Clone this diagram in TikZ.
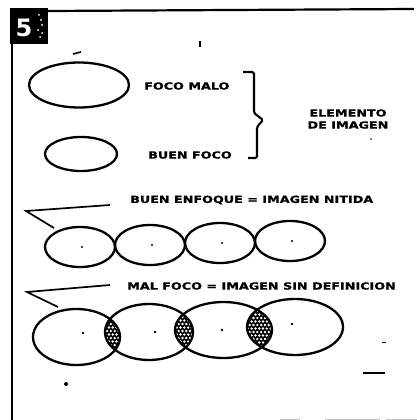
\documentclass[tikz,border=0pt]{standalone}
\usepackage{fontspec}
\setmainfont{DejaVu Sans}
\newfontfamily\lblfont[FakeStretch=1.3,FakeBold=1.2]{DejaVu Sans Bold}
\usetikzlibrary{shapes.geometric,calc}
\tikzset{
  lbl/.style={font=\lblfont\fontsize{9.8}{12}\selectfont, inner sep=0pt, anchor=west, align=left},
  ell/.style={draw, ellipse, line width=2.3pt, inner sep=0pt, outer sep=0pt},
  cdot/.style={fill, circle, inner sep=0pt, minimum size=2.6pt},
  pointer/.style={line width=1.7pt, line join=miter},
  stip/.style={fill=black},
}
\begin{document}
\begin{tikzpicture}[x=1pt,y=-1pt]
\useasboundingbox (0,0) rectangle (417,420);
% frame
\fill (10,8) rectangle (48,44);
\node[text=white, font=\bfseries\fontsize{24}{24}\selectfont, inner sep=0pt] (five) at (24,28) {5};
\foreach \p in {(39,15),(41,20),(42,25),(38,30),(42,33),(40,37)}{\fill[white] \p circle (1pt);}
\draw[line width=2.2pt] (48,11) -- (414,9);
\draw[line width=2.4pt] (12,44) -- (12,420);
% stray marks
\draw[line width=1.6pt] (73,54) -- (81,52);
\draw[line width=1.4pt] (200,41) -- (200,47);
\fill (371,139) circle (0.8pt);
\draw[line width=1pt] (382,342) -- (386,342);
\draw[line width=2.2pt] (363,373) -- (385,373);
\fill (66,384) circle (2pt);
\draw[gray!45, line width=0.8pt] (280,419) -- (300,419) (325,419) -- (380,419) (386,419) -- (417,419);
% element ellipses
\node[ell, minimum width=100pt, minimum height=45pt] (malo) at (79,85) {};
\node[lbl] (tmalo) at (144,86) {FOCO MALO};
\node[ell, minimum width=72pt, minimum height=34pt] (bueno) at (81,154) {};
\node[lbl] (tbueno) at (148,155) {BUEN FOCO};
\draw[line width=2.1pt, rounded corners=1.5pt] (243,72) -- (254,72) -- (254,113) -- (263,120) -- (257,127) -- (257,158) -- (248,158);
\node[lbl, align=center, anchor=center] (elem) at (348,119) {ELEMENTO\\DE IMAGEN};
% row 1
\node[lbl] (t1) at (130,200) {BUEN ENFOQUE = IMAGEN NITIDA};
\coordinate (p1a) at (110,205);
\coordinate (p1b) at (26,211);
\coordinate (p1c) at (54,228);
\draw[pointer] (p1a) -- (p1b) -- (p1c);
\foreach \n/\x/\y in {1/80/247,2/150/245,3/220/243,4/290/241}{
  \node[ell, minimum width=70pt, minimum height=40pt] (a\n) at (\x,\y) {};
  \node[cdot, minimum size=2.4pt] (ad\n) at (\x+2,\y) {};
}
% row 2
\node[lbl] (t2) at (127,286) {MAL FOCO = IMAGEN SIN DEFINICION};
\coordinate (p2a) at (110,285);
\coordinate (p2b) at (27,292);
\coordinate (p2c) at (58,307);
\draw[pointer] (p2a) -- (p2b) -- (p2c);
\coordinate (c1) at (76.5,337);
\coordinate (c2) at (149,332);
\coordinate (c3) at (223.5,330);
\coordinate (c4) at (295,327);
\foreach \a/\ra/\b/\rb in {c1/43.5/c2/44,c2/44/c3/48.5,c3/48.5/c4/48}{
  \begin{scope}
    \coordinate (mid) at ($(\a)!0.5!(\b)$);
    \clip (\a) ellipse [x radius=\ra, y radius=28];
    \clip (\b) ellipse [x radius=\rb, y radius=28];
    \fill[stip] (mid) +(-40,-40) rectangle +(40,40);
    \foreach \i in {-6,...,6}{\foreach \j in {-8,...,8}{
      \pgfmathsetmacro{\dx}{\i*3.8+mod(abs(\j),2)*1.9}
      \pgfmathsetmacro{\dy}{\j*3.5}
      \fill[white] (mid) ++(\dx,\dy) circle (1.35pt);}}
  \end{scope}
}
\node[ell, minimum width=87pt, minimum height=56pt] (b1) at (c1) {};
\node[ell, minimum width=88pt, minimum height=56pt] (b2) at (c2) {};
\node[ell, minimum width=97pt, minimum height=56pt] (b3) at (c3) {};
\node[ell, minimum width=96pt, minimum height=56pt] (b4) at (c4) {};
\node[cdot] (bd1) at (83,333) {};
\node[cdot] (bd2) at (155,332) {};
\node[cdot] (bd3) at (222,330) {};
\node[cdot] (bd4) at (292,324) {};
\end{tikzpicture}
\end{document}
